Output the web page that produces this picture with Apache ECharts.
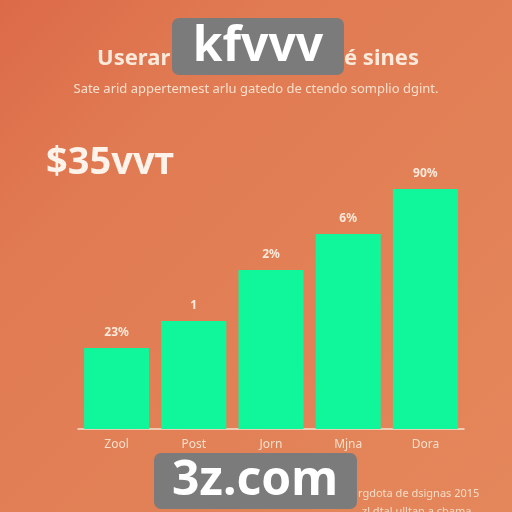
<!DOCTYPE html>
<html>
<head>
<meta charset="utf-8">
<script src="https://cdn.jsdelivr.net/npm/echarts@6/dist/echarts.min.js"></script>
<style>
  html, body { margin: 0; padding: 0; }
  #main { width: 512px; height: 512px; }
</style>
</head>
<body>
<div id="main"></div>
<script>
// chart data
const categories = ['Zool', 'Post', 'Jorn', 'Mjna', 'Dora']
const values = [27, 36, 53, 65, 80]
const barLabels = ['23%', '1', '2%', '6%', '90%']

const cream = '#fbeadb'
const chart = echarts.init(document.getElementById('main'))

chart.setOption({
  backgroundColor: {
    type: 'linear', x: 0, y: 0, x2: 1, y2: 1,
    colorStops: [
      { offset: 0, color: '#dc6a49' },
      { offset: 0.25, color: '#e07a52' },
      { offset: 1, color: '#e4875b' }
    ]
  },
  grid: {
    left: 78,
    right: 48,
    top: 129,
    bottom: 83
  },
  xAxis: {
    type: 'category',
    data: categories,
    axisTick: { show: false },
    axisLine: { lineStyle: { color: '#f6e2cf', width: 1.5 } },
    axisLabel: {
      color: '#f7dfcb',
      fontSize: 12,
      fontFamily: 'Noto Sans',
      margin: 10
    }
  },
  yAxis: {
    type: 'value',
    min: 0,
    max: 100,
    show: false,
    splitLine: { show: false }
  },
  series: [{
    type: 'bar',
    data: values,
    barWidth: 65,
    itemStyle: { color: '#10f79b' },
    label: {
      show: true,
      position: 'top',
      distance: 9,
      color: cream,
      fontSize: 12,
      fontWeight: 'bold',
      fontFamily: 'Noto Sans',
      formatter: p => barLabels[p.dataIndex]
    }
  }],
  graphic: [
    {
      type: 'text', left: 97, top: 48,
      style: { text: 'Userar', fill: cream, font: 'bold 22px "Noto Sans"' }
    },
    {
      type: 'text', left: 344, top: 48,
      style: { text: 'é sines', fill: cream, font: 'bold 22px "Noto Sans"' }
    },
    {
      type: 'text', left: 'center', top: 83,
      style: {
        text: 'Sate arid appertemest arlu gatedo de ctendo somplio dgint.',
        fill: '#f8dfcc', font: '13px "Noto Sans"'
      }
    },
    {
      type: 'text', left: 46, top: 144,
      style: { text: '$35vvт', fill: '#fdf3ea', font: 'bold 38px "Noto Sans"' }
    },
    {
      type: 'text', left: 358, top: 488,
      style: { text: 'rgdota de dsignas 2015', fill: '#f6dcc6', font: '11px "Noto Sans"' }
    },
    {
      type: 'text', left: 362, top: 506,
      style: { text: 'zl dtal ulltan a cbama', fill: '#f6dcc6', font: '11px "Noto Sans"' }
    },
    // watermark boxes
    {
      type: 'rect',
      shape: { x: 172, y: 18, width: 172, height: 57, r: 7 },
      style: { fill: '#7b7b7b' }
    },
    {
      type: 'text', x: 258, y: 47,
      style: {
        text: 'kfvvv', fill: '#ffffff', font: 'bold 48px "Noto Sans"',
        align: 'center', verticalAlign: 'middle'
      }
    },
    {
      type: 'rect',
      shape: { x: 154, y: 453, width: 203, height: 56, r: 7 },
      style: { fill: '#7b7b7b' }
    },
    {
      type: 'text', x: 255, y: 481,
      style: {
        text: '3z.com', fill: '#ffffff', font: 'bold 48px "Noto Sans"',
        align: 'center', verticalAlign: 'middle'
      }
    }
  ]
})
</script>
</body>
</html>
